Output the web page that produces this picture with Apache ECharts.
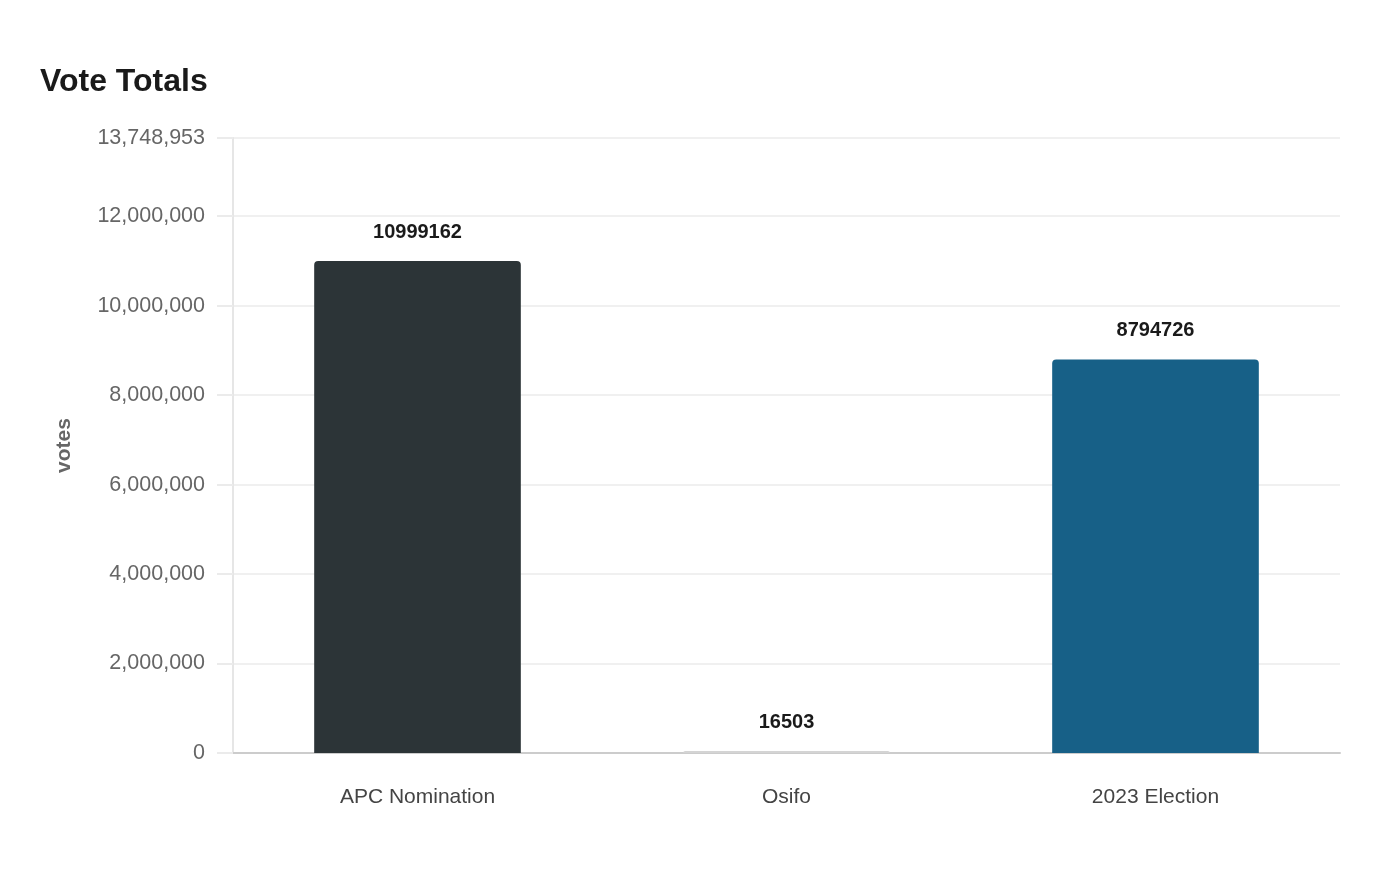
<!DOCTYPE html>
<html>
<head>
<meta charset="utf-8">
<script src="https://cdn.jsdelivr.net/npm/echarts@6/dist/echarts.min.js"></script>
<style>
html,body{margin:0;padding:0;background:#fff;}
#c{width:1400px;height:880px;}
</style>
</head>
<body>
<div id="c"></div>
<script>
const categories = ["APC Nomination", "Osifo", "2023 Election"];
const votes = [10999162, 16503, 8794726];
const barColors = ["#2c3437", "#d4d4d4", "#176087"];

const yMax = 13748953;
const fmt = v => Math.round(v).toString().replace(/\B(?=(\d{3})+(?!\d))/g, ",");

const chart = echarts.init(document.getElementById('c'), null, {renderer: 'canvas'});
chart.setOption({
  animation: false,
  backgroundColor: '#ffffff',
  title: {
    text: 'Vote Totals',
    left: 35, top: 61,
    textStyle: {fontFamily: 'Liberation Sans, Arial, sans-serif', fontSize: 32, fontWeight: 'bold', color: '#1a1a1a'}
  },
  grid: {left: 233, right: 60, top: 138, bottom: 127, containLabel: false},
  xAxis: {
    type: 'category',
    data: categories,
    axisLine: {show: true, lineStyle: {color: '#cccccc', width: 2}},
    axisTick: {show: false},
    axisLabel: {margin: 34, fontFamily: 'Liberation Sans, Arial, sans-serif', fontSize: 21, color: '#444444'}
  },
  yAxis: {
    type: 'value',
    min: 0, max: yMax, interval: 2000000,
    name: 'votes',
    nameLocation: 'middle',
    nameGap: 158,
    nameTextStyle: {fontFamily: 'Liberation Sans, Arial, sans-serif', fontSize: 21, fontWeight: 'bold', color: '#666666'},
    axisLine: {show: true, lineStyle: {color: '#e6e6e6', width: 2}},
    axisTick: {show: true, inside: false, length: 16, lineStyle: {color: '#ebebeb', width: 2}},
    splitLine: {show: true, lineStyle: {color: '#ebebeb', width: 1.5}},
    axisLabel: {margin: 28, fontFamily: 'Liberation Sans, Arial, sans-serif', fontSize: 21.5, color: '#666666', formatter: v => fmt(v)}
  },
  series: [{
    type: 'bar',
    barWidth: '56%',
    barMinHeight: 2,
    data: votes.map((v, i) => ({value: v, itemStyle: {color: barColors[i], borderRadius: [4, 4, 0, 0]}})),
    label: {
      show: true, position: 'top', distance: 19,
      fontFamily: 'Liberation Sans, Arial, sans-serif', fontSize: 20, fontWeight: 'bold', color: '#1a1a1a'
    }
  }]
});
</script>
</body>
</html>
